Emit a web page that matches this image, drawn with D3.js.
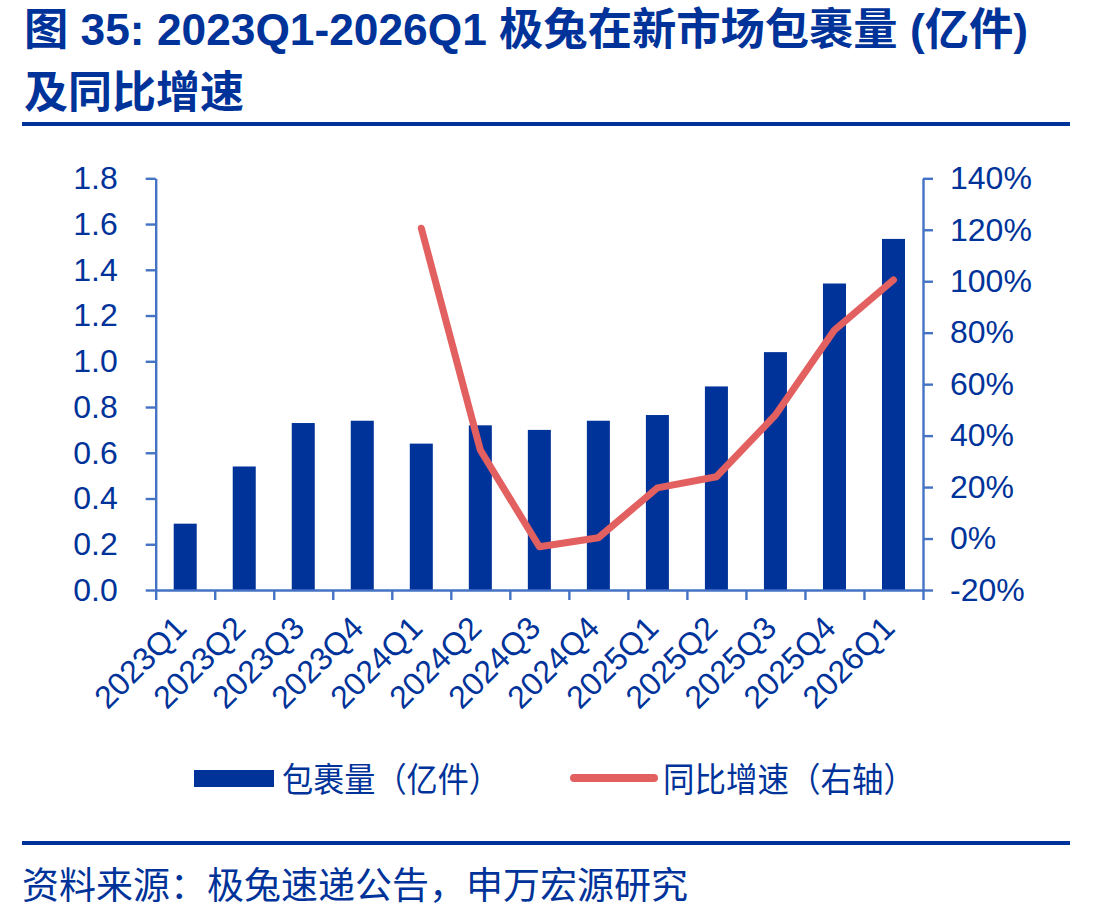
<!DOCTYPE html>
<html>
<head>
<meta charset="utf-8">
<script src="https://cdn.jsdelivr.net/npm/d3@7"></script>
<style>
  body { margin: 0; background: #fff; }
  text { font-family: "Liberation Sans", Arial, "Noto Sans CJK SC", sans-serif; }
</style>
</head>
<body>
<div id="chart"></div>
<script>
// data
var quarters = ["2023Q1","2023Q2","2023Q3","2023Q4","2024Q1","2024Q2","2024Q3",
                "2024Q4","2025Q1","2025Q2","2025Q3","2025Q4","2026Q1"];
var parcels = [0.29, 0.54, 0.73, 0.74, 0.64, 0.72, 0.70, 0.74, 0.765, 0.89, 1.04, 1.34, 1.535];
var growth = [null, null, null, null, 1.206, 0.344, -0.032, 0.003, 0.197, 0.24, 0.48, 0.81, 1.005];
var leftTicks = [0, 0.2, 0.4, 0.6, 0.8, 1.0, 1.2, 1.4, 1.6, 1.8];
var rightTicks = [-0.2, 0, 0.2, 0.4, 0.6, 0.8, 1.0, 1.2, 1.4];

var navy = "#003399",
    axisBlue = "#4472C4",
    red = "#E26060";

function drawChart(){
  var width = 1115, height = 919;
  var left = 155.7, right = 923, top = 178.3, bottom = 590;

  var svg = d3.select("#chart").append("svg")
              .attr("width", width)
              .attr("height", height);

  // title
  var title = svg.append("g").attr("fill", navy).attr("font-weight", "bold")
                 .attr("font-size", "44px");
  title.append("text").attr("x", 24).attr("y", 45)
       .attr("textLength", 1004).attr("lengthAdjust", "spacingAndGlyphs")
       .text("图 35: 2023Q1-2026Q1 极兔在新市场包裹量 (亿件)");
  title.append("text").attr("x", 24).attr("y", 108)
       .text("及同比增速");
  svg.append("rect").attr("x", 22).attr("y", 122).attr("width", 1048).attr("height", 4)
     .attr("fill", navy);

  // scales
  var x = d3.scaleBand().domain(quarters).range([left, right])
            .paddingInner(0.61).paddingOuter(0.305);
  var xEdge = d3.scaleLinear().domain([0, quarters.length]).range([left, right]);
  var y = d3.scaleLinear().domain([0, 1.8]).range([bottom, top]);
  var y2 = d3.scaleLinear().domain([-0.2, 1.4]).range([bottom, top]);

  // bars
  svg.append("g")
     .selectAll("rect")
     .data(parcels)
     .enter()
     .append("rect")
     .attr("x", function(d, i) { return x(quarters[i]); })
     .attr("y", function(d) { return y(d); })
     .attr("width", x.bandwidth())
     .attr("height", function(d) { return y(0) - y(d); })
     .attr("fill", navy);

  // axes
  var pct = d3.format(".0%");
  var leftAxis = svg.append("g")
     .attr("transform", "translate(" + left + ",0)")
     .call(d3.axisLeft(y).tickValues(leftTicks).tickFormat(d3.format(".1f"))
             .tickSize(10).tickSizeOuter(0).tickPadding(28));
  var rightAxis = svg.append("g")
     .attr("transform", "translate(" + right + ",0)")
     .call(d3.axisRight(y2).tickValues(rightTicks)
             .tickFormat(function(d) { return pct(d).replace("\u2212", "-"); })
             .tickSize(10).tickSizeOuter(0).tickPadding(17));
  var bottomAxis = svg.append("g")
     .attr("transform", "translate(0," + bottom + ")")
     .call(d3.axisBottom(xEdge).tickValues(d3.range(quarters.length + 1))
             .tickFormat("").tickSize(10).tickSizeOuter(0));

  [leftAxis, rightAxis, bottomAxis].forEach(function(a) {
    a.selectAll("path, line").attr("stroke", axisBlue).attr("stroke-width", 2.4);
    a.selectAll("text").attr("fill", navy).attr("font-size", "32px")
     .attr("font-family", "'Liberation Sans', Arial, sans-serif");
  });

  // rotated category labels
  svg.append("g")
     .selectAll("text")
     .data(quarters)
     .enter()
     .append("text")
     .attr("transform", function(d) {
       return "translate(" + (x(d) + x.bandwidth() / 2 + 3) + ",630) rotate(-45)";
     })
     .attr("text-anchor", "end")
     .attr("font-size", "32px")
     .attr("fill", navy)
     .text(function(d) { return d; });

  // growth line on the right axis
  var line = d3.line()
     .defined(function(d) { return d != null; })
     .x(function(d, i) { return x(quarters[i]) + x.bandwidth() / 2; })
     .y(function(d) { return y2(d); });
  svg.append("path")
     .datum(growth)
     .attr("d", line)
     .attr("fill", "none")
     .attr("stroke", red)
     .attr("stroke-width", 7)
     .attr("stroke-linejoin", "round")
     .attr("stroke-linecap", "round");

  // legend
  var legend = svg.append("g").attr("font-size", "34px").attr("fill", navy);
  legend.append("rect").attr("x", 194).attr("y", 770).attr("width", 80).attr("height", 17)
        .attr("fill", navy);
  legend.append("text").attr("x", 282).attr("y", 792)
        .attr("textLength", 218).attr("lengthAdjust", "spacingAndGlyphs")
        .text("包裹量（亿件）");
  legend.append("line").attr("x1", 574).attr("x2", 654).attr("y1", 778).attr("y2", 778)
        .attr("stroke", red).attr("stroke-width", 8).attr("stroke-linecap", "round");
  legend.append("text").attr("x", 663).attr("y", 792)
        .attr("textLength", 252).attr("lengthAdjust", "spacingAndGlyphs")
        .text("同比增速（右轴）");

  // source
  svg.append("rect").attr("x", 22).attr("y", 841).attr("width", 1048).attr("height", 4)
     .attr("fill", navy);
  svg.append("text").attr("x", 22).attr("y", 899).attr("font-size", "37px")
     .attr("fill", navy)
     .text("资料来源：极兔速递公告，申万宏源研究");
}

drawChart();
</script>
</body>
</html>
